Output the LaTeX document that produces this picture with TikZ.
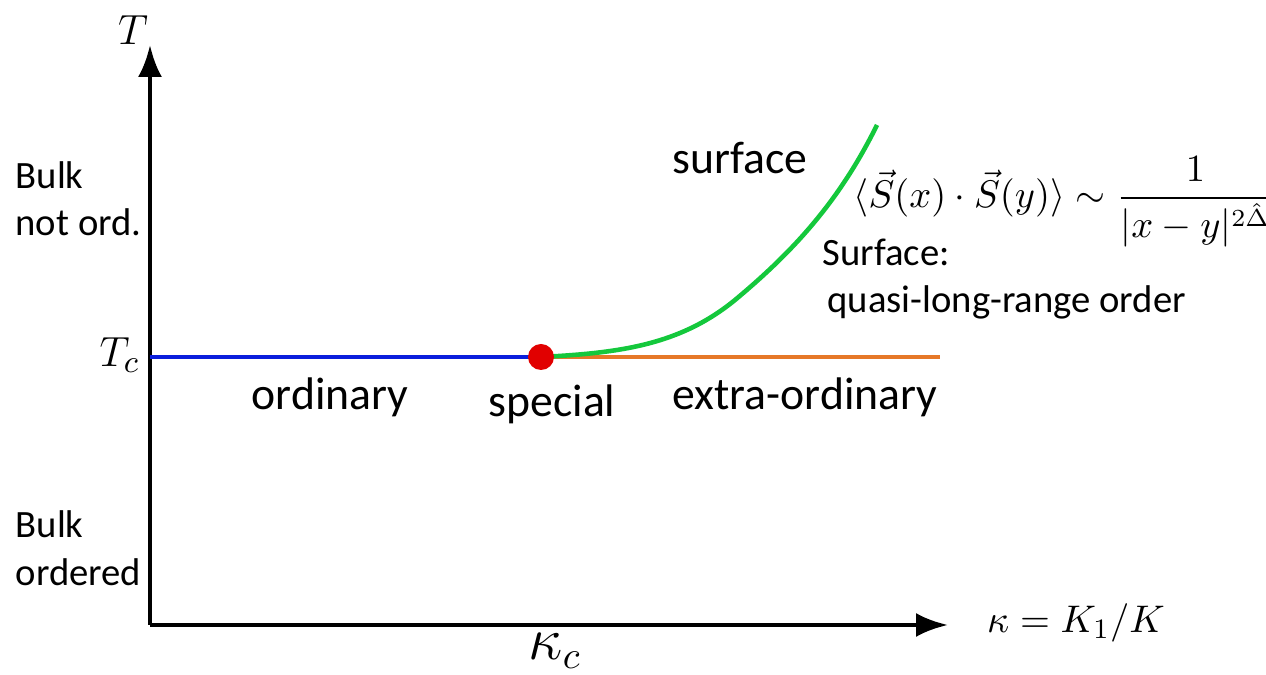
\documentclass[tikz,border=0pt]{standalone}
\usepackage{amsmath}
\usepackage{fontspec}
\setmainfont{Carlito}
\usepackage{tikz}
\usetikzlibrary{arrows.meta, positioning, calc}

\definecolor{lineblue}{RGB}{10,30,220}
\definecolor{lineorange}{RGB}{230,120,40}
\definecolor{linegreen}{RGB}{20,200,60}
\definecolor{dotred}{RGB}{225,0,0}

\begin{document}
\begin{tikzpicture}[
  axis/.style={-{Latex[length=3.2mm, width=2.4mm]}, line width=1.3pt, black},
  phase/.style={line width=1.3pt},
  region/.style={font=\fontsize{13}{15}\selectfont, inner sep=1pt},
  bulk/.style={font=\fontsize{11}{13.5}\selectfont, align=left, anchor=west, inner sep=0pt},
  mlbl/.style={font=\fontsize{13}{15}\selectfont, inner sep=1pt}
]
\useasboundingbox (0,0) rectangle (12.66,6.75);
\def\yT{3.18}

\coordinate (O) at (1.50, 0.50);
\coordinate (ytop) at (1.50, 6.30);
\coordinate (xend) at (9.48, 0.50);
\coordinate (tc) at (1.50, \yT);
\coordinate (sp) at (5.41, \yT);
\coordinate (xo) at (9.40, \yT);
\coordinate (sf) at (8.77, 5.50);

% axes
\draw[axis] (O) -- (ytop);
\draw[axis] (O) -- (xend);

% transition lines
\draw[phase, lineblue] (tc) -- (sp);
\draw[phase, lineorange] (sp) -- (xo);
\draw[phase, linegreen] (sp) .. controls (6.20, 3.22) and (6.80, 3.30) .. (7.35, 3.75)
  .. controls (7.95, 4.25) and (8.40, 4.75) .. (sf);
\fill[dotred] (sp) circle (0.13);

% axis labels
\node[mlbl] (T) at (1.33, 6.45) {$T$};
\node[mlbl, anchor=east] (Tclbl) at (1.44, 3.20) {$T_c$};
\node[mlbl, font=\fontsize{16}{18}\selectfont] (kc) at (5.55, 0.24) {$\kappa_c$};
\node[mlbl, font=\fontsize{11}{13}\selectfont, anchor=west] (kappa) at (9.83, 0.52) {$\kappa = K_1/K$};

% bulk phases
\node[bulk] (bulkhi) at (0.15, 4.76) {Bulk\\not ord.};
\node[bulk] (bulklo) at (0.15, 1.27) {Bulk\\ordered};

% surface phases
\node[region] (ord) at (3.30, 2.78) {ordinary};
\node[region] (spec) at (5.52, 2.71) {special};
\node[region] (xord) at (8.05, 2.78) {extra-ordinary};
\node[region] (surf) at (7.40, 5.17) {surface};

\node[bulk] (qlro) at (8.22, 3.96) {Surface:\\\hspace{0.5mm}quasi-long-range order};
\node[font=\fontsize{10.5}{12}\selectfont, inner sep=0pt] (corr) at (10.64, 4.73)
  {$\displaystyle \langle \vec{S}(x)\cdot\vec{S}(y)\rangle \sim \frac{1}{|x-y|^{2\hat{\Delta}}}$};
\end{tikzpicture}
\end{document}
